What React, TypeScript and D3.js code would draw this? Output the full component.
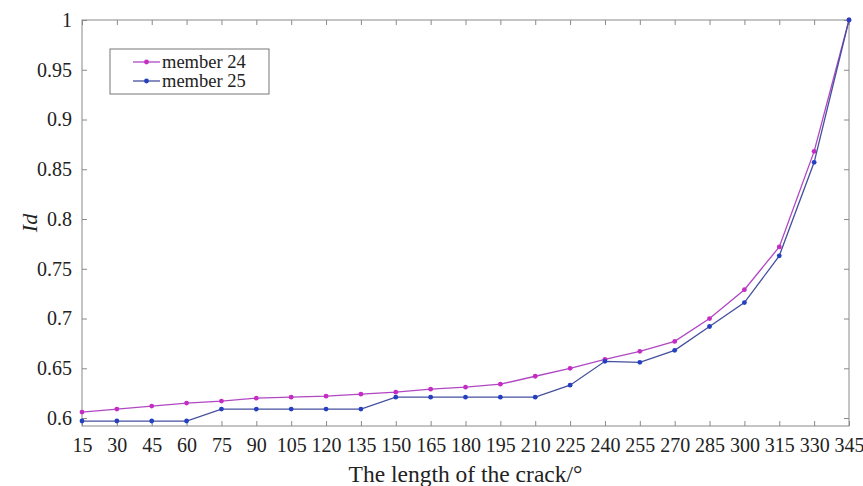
import { useEffect, useRef } from "react";
import * as d3 from "d3";

const crackLengths = [15, 30, 45, 60, 75, 90, 105, 120, 135, 150, 165, 180, 195, 210, 225, 240, 255, 270, 285, 300, 315, 330, 345];
const member24 = [0.606, 0.609, 0.612, 0.615, 0.617, 0.62, 0.621, 0.622, 0.624, 0.626, 0.629, 0.631, 0.634, 0.642, 0.65, 0.659, 0.667, 0.677, 0.7, 0.729, 0.772, 0.868, 1.0];
const member25 = [0.597, 0.597, 0.597, 0.597, 0.609, 0.609, 0.609, 0.609, 0.609, 0.621, 0.621, 0.621, 0.621, 0.621, 0.633, 0.657, 0.656, 0.668, 0.692, 0.716, 0.763, 0.857, 1.0];
const yTicks = [0.6, 0.65, 0.7, 0.75, 0.8, 0.85, 0.9, 0.95, 1];
const seriesNames = ["member 24", "member 25"];
const seriesColors = ["#c42cc4", "#2440c0"];
const lineColors = ["#b048c4", "#44509e"];

const font = "Liberation Serif, Times New Roman, DejaVu Serif, serif";

export default function App() {
  const ref = useRef<SVGSVGElement | null>(null);

  useEffect(() => {
    const svg = d3.select(ref.current);
    svg.selectAll("*").remove();

    const W = 863;
    const H = 486;
    const margin = { top: 20, right: 14, bottom: 60, left: 82 };
    const width = W - margin.left - margin.right;
    const height = H - margin.top - margin.bottom;

    const x = d3.scaleLinear().domain([15, 345]).range([0, width]);
    const y = d3.scaleLinear().domain([0.592, 1]).range([height, 0]);

    const g = svg.append("g").attr("transform", `translate(${margin.left},${margin.top})`);

    // frame
    g.append("rect")
      .attr("width", width)
      .attr("height", height)
      .attr("fill", "none")
      .attr("stroke", "#8a8a8a")
      .attr("stroke-width", 1);

    // inward ticks on all four sides
    const tickLen = 5;
    const xAxisB = d3.axisBottom(x).tickValues(crackLengths).tickSizeInner(-tickLen).tickSizeOuter(0).tickPadding(12).tickFormat(d3.format("d"));
    const xAxisT = d3.axisTop(x).tickValues(crackLengths).tickSizeInner(-tickLen).tickSizeOuter(0).tickFormat(() => "");
    const yAxisL = d3.axisLeft(y).tickValues(yTicks).tickSizeInner(-tickLen).tickSizeOuter(0).tickPadding(10).tickFormat((d) => String(+d));
    const yAxisR = d3.axisRight(y).tickValues(yTicks).tickSizeInner(-tickLen).tickSizeOuter(0).tickFormat(() => "");

    const styleAxis = (sel: any) => {
      sel.attr("font-family", font).attr("font-size", 20);
      sel.select(".domain").remove();
      sel.selectAll("line").attr("stroke", "#8a8a8a");
      sel.selectAll("text").attr("fill", "#222");
    };

    g.append("g").attr("transform", `translate(0,${height})`).call(xAxisB).call(styleAxis);
    g.append("g").call(xAxisT).call(styleAxis);
    g.append("g").call(yAxisL).call(styleAxis);
    g.append("g").attr("transform", `translate(${width},0)`).call(yAxisR).call(styleAxis);

    const line = d3
      .line<number>()
      .x((_, i) => x(crackLengths[i]))
      .y((d) => y(d));

    [member24, member25].forEach((vals, si) => {
      g.append("path")
        .datum(vals)
        .attr("fill", "none")
        .attr("stroke", lineColors[si])
        .attr("stroke-width", 1.3)
        .attr("d", line);
      g.selectAll(null)
        .data(vals)
        .enter()
        .append("circle")
        .attr("cx", (_, i) => x(crackLengths[i]))
        .attr("cy", (d) => y(d))
        .attr("r", 2.4)
        .attr("fill", seriesColors[si]);
    });

    // legend
    const lg = svg.append("g").attr("transform", "translate(110,49)");
    lg.append("rect")
      .attr("width", 159)
      .attr("height", 45)
      .attr("fill", "#fff")
      .attr("stroke", "#777")
      .attr("stroke-width", 1);
    seriesNames.forEach((name, i) => {
      const cy = 13 + i * 19;
      lg.append("line").attr("x1", 23).attr("x2", 50).attr("y1", cy).attr("y2", cy).attr("stroke", lineColors[i]).attr("stroke-width", 1.3);
      lg.append("circle").attr("cx", 36.5).attr("cy", cy).attr("r", 2.4).attr("fill", seriesColors[i]);
      lg.append("text")
        .attr("x", 52)
        .attr("y", cy)
        .attr("dy", "0.35em")
        .attr("fill", "#222")
        .attr("font-family", font)
        .attr("font-size", 18.5)
        .text(name);
    });

    // axis titles
    svg.append("text")
      .attr("x", margin.left + width / 2)
      .attr("y", 482)
      .attr("text-anchor", "middle")
      .attr("fill", "#222")
      .attr("font-family", font)
      .attr("font-size", 23.5)
      .text("The length of the crack/°");

    svg.append("text")
      .attr("transform", `translate(37,${margin.top + height / 2}) rotate(-90)`)
      .attr("text-anchor", "middle")
      .attr("fill", "#222")
      .attr("font-family", font)
      .attr("font-size", 22)
      .attr("font-style", "italic")
      .text("Id");
  }, []);

  return (
    <svg
      ref={ref}
      width={863}
      height={486}
      style={{ position: "absolute", left: 0, top: 0, background: "#fff", fontFamily: font }}
    />
  );
}
